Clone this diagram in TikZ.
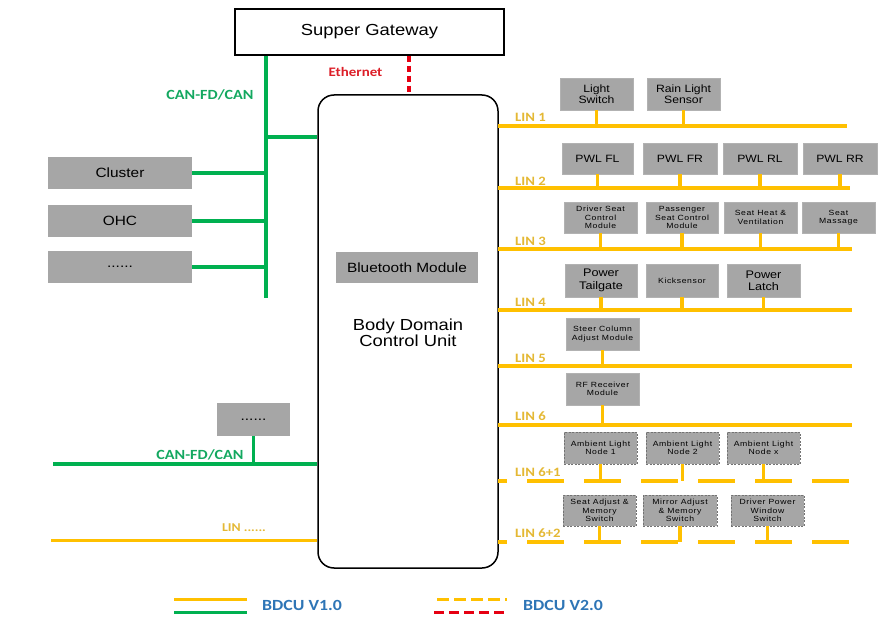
\documentclass[tikz,border=0pt]{standalone}
\usepackage{fontspec}
\setmainfont[FakeStretch=1.15]{Liberation Sans}
\newfontfamily\smallf[FakeStretch=1.15,LetterSpace=8]{Liberation Sans}
\newfontfamily\labf[FakeStretch=1.15]{Carlito}
\definecolor{linyellow}{RGB}{255,192,0}
\definecolor{linlabel}{RGB}{228,184,52}
\definecolor{cangreen}{RGB}{0,176,80}
\definecolor{cantext}{RGB}{20,168,96}
\definecolor{ethred}{RGB}{230,0,18}
\definecolor{ethtext}{RGB}{220,30,40}
\definecolor{legblue}{RGB}{46,117,182}
\definecolor{boxgray}{RGB}{166,166,166}
\tikzset{
  ecu/.style={fill=boxgray, draw=black!30, line width=0.4pt, inner sep=0pt, align=center, minimum width=73, minimum height=32},
  ecudash/.style={ecu, draw=black!55, dashed, dash pattern=on 2pt off 1.5pt},
  leftbox/.style={fill=boxgray, inner sep=0pt, align=center, minimum width=144, minimum height=32, font=\fontsize{13.4}{14}\selectfont},
  midtxt/.style={font=\fontsize{10.6}{11.5}\selectfont},
  bigtxt/.style={font=\fontsize{11}{12.3}\selectfont},
  smalltxt/.style={font=\smallf\fontsize{7.5}{8.6}\selectfont},
  lin/.style={draw=linyellow, line width=3.2pt},
  lindash/.style={lin, dash pattern=on 37pt off 20pt, dash phase=28pt},
  stub/.style={draw=linyellow, line width=3.5pt},
  can/.style={draw=cangreen, line width=3.5pt},
  eth/.style={draw=ethred, line width=4pt, dash pattern=on 6pt off 4pt},
  linlab/.style={anchor=west, inner sep=0pt, text=linlabel, font=\labf\bfseries\fontsize{12.8}{13}\selectfont},
  canlab/.style={inner sep=0pt, text=cantext, font=\labf\bfseries\fontsize{14}{15}\selectfont},
  leglab/.style={anchor=west, inner sep=0pt, text=legblue, font=\labf\bfseries\fontsize{15.5}{16}\selectfont}
}
\begin{document}
\begin{tikzpicture}[x=1pt,y=-1pt]
\useasboundingbox (0,0) rectangle (884,623);
% main units
\node[draw, line width=1.5pt, fill=white, minimum width=269, minimum height=46, inner sep=0pt,
      font=\fontsize{16}{18}\selectfont] (gw) at (369.5,32) {Supper Gateway};
\node[draw, line width=1.5pt, rounded corners=16pt, minimum width=180, minimum height=473, inner sep=0pt] (bdcu) at (408,331.5) {};
\node[align=center, inner sep=0pt, font=\fontsize{16}{16}\selectfont] (bdcutxt) at (408,333) {Body Domain\\Control Unit};
\node[fill=boxgray, minimum width=142, minimum height=31, inner sep=0pt, font=\fontsize{13.4}{14}\selectfont] (bt) at (407,267.5) {Bluetooth Module};
% ethernet
\draw[eth] (gw.south -| 409,0) -- (bdcu.north -| 409,0);
\node[inner sep=0pt, text=ethtext, font=\labf\bfseries\fontsize{13}{14}\selectfont] (ethlab) at (355.5,72) {Ethernet};
% left CAN
\node[leftbox] (cluster) at (120,173) {Cluster};
\node[leftbox] (ohc) at (120,221) {OHC};
\node[leftbox] (dots1) at (120,267) {......};
\coordinate (cvb) at (266,298);
\draw[can] (gw.south -| cvb) -- (cvb);
\draw[can] (266,137) -- (bdcu.west |- 266,137);
\draw[can] (cluster.east) -- (cluster.east -| cvb);
\draw[can] (ohc.east) -- (ohc.east -| cvb);
\draw[can] (dots1.east) -- (dots1.east -| cvb);
\node[canlab] (canlab1) at (210,95) {CAN-FD/CAN};
% lower left
\node[leftbox, minimum width=73, minimum height=33] (dots2) at (253.5,419.5) {......};
\coordinate (canl) at (53,464);
\draw[can] (canl) -- (canl -| bdcu.west);
\draw[can] (dots2.south) -- (dots2.south |- canl);
\node[canlab] (canlab2) at (200,455) {CAN-FD/CAN};
\coordinate (linl) at (51,540.5);
\draw[lin] (linl) -- (linl -| bdcu.west);
\node[inner sep=0pt, text=linlabel, font=\labf\bfseries\fontsize{12}{12}\selectfont] (linlab0) at (244,527.5) {LIN ......};
% LIN buses
\coordinate (b1) at (498,126);   \coordinate (e1) at (847,126);
\coordinate (b2) at (498,188);   \coordinate (e2) at (850,188);
\coordinate (b3) at (498,249);   \coordinate (e3) at (852,249);
\coordinate (b4) at (498,310);   \coordinate (e4) at (852,310);
\coordinate (b5) at (498,366);   \coordinate (e5) at (852,366);
\coordinate (b6) at (498,425);   \coordinate (e6) at (852,425);
\coordinate (b7) at (498,481);   \coordinate (e7) at (852,481);
\coordinate (b8) at (498,542);   \coordinate (e8) at (852,542);
\draw[lin] (b1) -- (e1);
\draw[lin] (b2) -- (e2);
\draw[lin] (b3) -- (e3);
\draw[lin] (b4) -- (e4);
\draw[lin] (b5) -- (e5);
\draw[lin] (b6) -- (e6);
\draw[lindash] (b7) -- (e7);
\draw[lindash] (b8) -- (e8);
\node[linlab] (l1) at (515,117.5) {LIN 1};
\node[linlab] (l2) at (515,181) {LIN 2};
\node[linlab] (l3) at (515,241) {LIN 3};
\node[linlab] (l4) at (515,302.5) {LIN 4};
\node[linlab] (l5) at (515,358) {LIN 5};
\node[linlab] (l6) at (515,416.5) {LIN 6};
\node[linlab] (l7) at (515,472) {LIN 6+1};
\node[linlab] (l8) at (515,533) {LIN 6+2};
% LIN 1
\node[ecu, midtxt] (ls) at (596.5,94) {Light\\Switch};
\node[ecu, midtxt] (rls) at (683.5,94) {Rain Light\\Sensor};
% LIN 2
\node[ecu, midtxt, minimum width=71, minimum height=31] (pfl) at (597.5,158.5) {PWL FL};
\node[ecu, midtxt, minimum width=74, minimum height=31] (pfr) at (680,158.5) {PWL FR};
\node[ecu, midtxt, minimum width=74, minimum height=31] (prl) at (760,158.5) {PWL RL};
\node[ecu, midtxt, minimum width=74, minimum height=31] (prr) at (840,158.5) {PWL RR};
% LIN 3
\node[ecu, smalltxt, minimum height=31] (dsc) at (600.5,217.5) {Driver Seat\\Control\\Module};
\node[ecu, smalltxt, minimum width=72, minimum height=31] (psc) at (682,217.5) {Passenger\\Seat Control\\Module};
\node[ecu, smalltxt, minimum height=31] (shv) at (760.5,217.5) {Seat Heat \&\\Ventilation};
\node[ecu, smalltxt, minimum height=31] (sm) at (838.5,217.5) {Seat\\Massage};
% LIN 4
\node[ecu, bigtxt, minimum width=72, minimum height=33] (pt) at (601,280.5) {Power\\Tailgate};
\node[ecu, smalltxt, minimum width=72, minimum height=33] (ks) at (682,280.5) {Kicksensor};
\node[ecu, bigtxt, minimum height=33] (pla) at (763.5,280.5) {Power\\Latch};
% LIN 5, 6
\node[ecu, smalltxt] (scm) at (602.5,334) {Steer Column\\Adjust Module};
\node[ecu, smalltxt] (rf) at (602.5,389) {RF Receiver\\Module};
% LIN 6+1
\node[ecudash, smalltxt] (an1) at (600.5,448) {Ambient Light\\Node 1};
\node[ecudash, smalltxt] (an2) at (682.5,448) {Ambient Light\\Node 2};
\node[ecudash, smalltxt] (anx) at (763.5,448) {Ambient Light\\Node x};
% LIN 6+2
\node[ecudash, smalltxt, minimum height=31] (sam) at (599.5,510.5) {Seat Adjust \&\\Memory\\Switch};
\node[ecudash, smalltxt, minimum width=74, minimum height=31] (mam) at (680,510.5) {Mirror Adjust\\\& Memory\\Switch};
\node[ecudash, smalltxt, minimum height=31] (dpw) at (767.5,510.5) {Driver Power\\Window\\Switch};
% stubs
\foreach \n/\b in {ls/b1,rls/b1,pfl/b2,pfr/b2,prl/b2,prr/b2,dsc/b3,psc/b3,shv/b3,sm/b3,pt/b4,ks/b4,pla/b4,scm/b5,rf/b6,an1/b7,an2/b7,anx/b7,sam/b8,mam/b8,dpw/b8}
  \draw[stub] (\n.south) -- (\n.south |- \b);
% legend
\coordinate (ly1) at (174,599); \coordinate (ly2) at (247,599);
\coordinate (lg1) at (174,612); \coordinate (lg2) at (247,612);
\draw[lin, line width=3pt] (ly1) -- (ly2);
\draw[can, line width=3pt] (lg1) -- (lg2);
\node[leglab] (leg1) at (262,605.5) {BDCU V1.0};
\coordinate (dy1) at (437,599); \coordinate (dy2) at (507,599);
\coordinate (dr1) at (434,612); \coordinate (dr2) at (505,612);
\draw[draw=linyellow, line width=3pt, dash pattern=on 11.5pt off 5.5pt] (dy1) -- (dy2);
\draw[draw=ethred, line width=3pt, dash pattern=on 10pt off 5pt] (dr1) -- (dr2);
\node[leglab] (leg2) at (523,605.5) {BDCU V2.0};
\end{tikzpicture}
\end{document}
